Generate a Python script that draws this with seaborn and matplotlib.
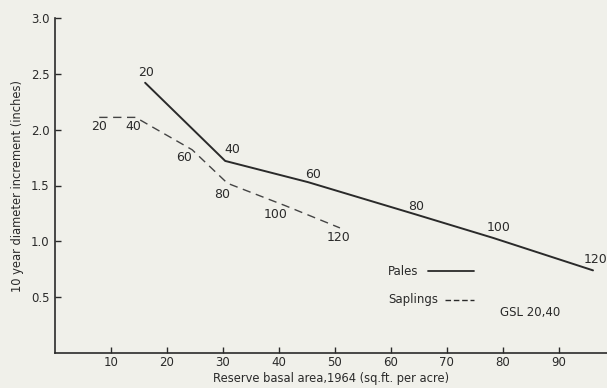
import matplotlib
matplotlib.use("Agg")
import matplotlib.pyplot as plt
import seaborn as sns
import pandas as pd

# Growing-stock levels (GSL) attached to each point
gsl_labels = ["20", "40", "60", "80", "100", "120"]

# Pales: reserve basal area (sq. ft. per acre) and 10-year diameter increment (inches)
pales_basal = [16.1, 30.4, 45.2, 64.5, 78.3, 96.1]
pales_incr = [2.42, 1.72, 1.53, 1.24, 1.03, 0.74]

# Saplings
sapl_basal = [7.9, 14.4, 24.5, 30.8, 41.1, 50.9]
sapl_incr = [2.11, 2.11, 1.82, 1.52, 1.32, 1.12]

x_ticks = [10, 20, 30, 40, 50, 60, 70, 80, 90]
y_ticks = [0.5, 1.0, 1.5, 2.0, 2.5, 3.0]

bg = "#f0f0ea"
ink = "#2a2a2a"

sns.set_theme(style="ticks")
plt.rcParams["font.family"] = ["DejaVu Sans"]

fig = plt.figure(figsize=(6.07, 3.88), dpi=100, facecolor=bg)
ax = fig.add_axes([55 / 607, 35 / 388, 552 / 607, 335 / 388])
ax.set_facecolor(bg)

pales = pd.DataFrame({"basal": pales_basal, "incr": pales_incr})
sapl = pd.DataFrame({"basal": sapl_basal, "incr": sapl_incr})

sns.lineplot(data=pales, x="basal", y="incr", ax=ax, color=ink, lw=1.4,
             sort=False, estimator=None)
sns.lineplot(data=sapl, x="basal", y="incr", ax=ax, color="#444444", lw=1.0,
             sort=False, estimator=None, dashes=False, linestyle=(0, (6, 4)))

# GSL labels beside each vertex (offsets in pixels)
pales_off = [(1, 10), (7, 11), (5, 8), (0, 8), (5, 10), (3, 11)]
sapl_off = [(0, -9), (-2, -9), (-8, -8), (-5, -11), (-9, -9), (-1, -10)]
for lab, xv, yv, off in zip(gsl_labels, pales_basal, pales_incr, pales_off):
    ax.annotate(lab, (xv, yv), xytext=off, textcoords="offset pixels",
                ha="center", va="center", fontsize=9, color=ink)
for lab, xv, yv, off in zip(gsl_labels, sapl_basal, sapl_incr, sapl_off):
    ax.annotate(lab, (xv, yv), xytext=off, textcoords="offset pixels",
                ha="center", va="center", fontsize=9, color=ink)

ax.set_xlim(0, 98.6)
ax.set_ylim(0, 3.0)
ax.set_xticks(x_ticks)
ax.set_yticks(y_ticks)
ax.set_xticklabels([str(t) for t in x_ticks])
ax.set_yticklabels([f"{t:.1f}" for t in y_ticks])
ax.tick_params(axis="both", direction="in", length=4, width=1, colors=ink,
               labelsize=8.5)
ax.tick_params(axis="x", pad=2.5)
ax.tick_params(axis="y", pad=4)

for side in ["top", "right"]:
    ax.spines[side].set_visible(False)
for side in ["left", "bottom"]:
    ax.spines[side].set_color(ink)
    ax.spines[side].set_linewidth(1.2)

ax.set_xlabel("Reserve basal area,1964 (sq.ft. per acre)", fontsize=8.3,
              color=ink, labelpad=1.5)
ax.set_ylabel("10 year diameter increment (inches)", fontsize=8.3,
              color=ink, labelpad=5)

# Hand-drawn style key
ax.text(59.5, 0.73, "Pales", fontsize=8.5, color=ink, va="center")
ax.plot([66.7, 74.8], [0.73, 0.73], color=ink, lw=1.3)
ax.text(59.5, 0.475, "Saplings", fontsize=8.5, color=ink, va="center")
ax.plot([69.6, 74.8], [0.475, 0.475], color=ink, lw=1.0, linestyle=(0, (4, 2)))
ax.text(79.5, 0.36, "GSL 20,40", fontsize=8.5, color=ink, va="center")

fig.savefig("out.png", dpi=100, facecolor=bg)
